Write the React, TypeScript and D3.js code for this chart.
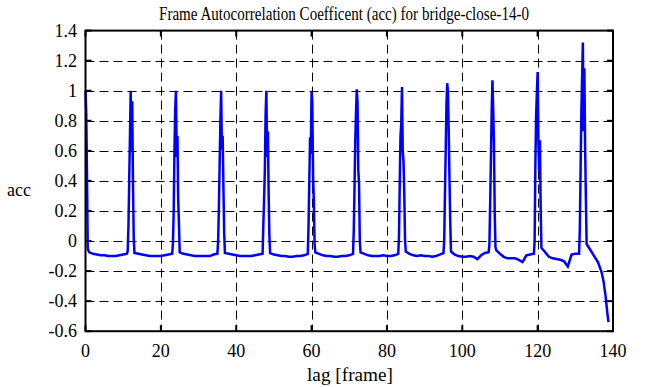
import { useEffect, useRef } from "react";
import * as d3 from "d3";

// lag axis ticks / acc axis ticks
const xTicks = [0, 20, 40, 60, 80, 100, 120, 140];
const yTicks = [-0.6, -0.4, -0.2, 0, 0.2, 0.4, 0.6, 0.8, 1, 1.2, 1.4];
const yTickLabels = ["-0.6", "-0.4", "-0.2", "0", "0.2", "0.4", "0.6", "0.8", "1", "1.2", "1.4"];

// peaks every 12 frames, sampled finer around each peak
const peakLags = [0, 12, 24, 36, 48, 60, 72, 84, 96, 108, 120, 132];
const peakOffsets = [-0.8, -0.6, -0.4, -0.2, 0, 0.2, 0.4, 0.6, 0.8];
const peakValues = [
  [null, null, null, null, 1.0, 0.85, 0.43, -0.05, -0.065],
  [-0.065, 0.1, 0.4, 0.7, 1.0, 0.6, 0.93, 0.39, 0.02],
  [-0.02, 0.19, 0.58, 0.87, 1.0, 0.56, 0.7, 0.28, 0.12],
  [0.0, 0.22, 0.51, 0.8, 1.0, 0.61, 0.7, 0.37, 0.06],
  [0.11, 0.28, 0.47, 0.84, 1.0, 0.56, 0.73, 0.33, 0.04],
  [0.11, 0.4, 0.69, 0.58, 1.0, 0.92, 0.43, 0.27, -0.02],
  [0.07, 0.36, 0.67, 0.86, 1.01, 0.92, 0.47, 0.38, 0.0],
  [0.03, 0.38, 0.7, 0.78, 1.025, 0.6, 0.53, 0.33, 0.01],
  [0.0, 0.31, 0.6, 0.91, 1.05, 0.99, 0.73, 0.42, 0.13],
  [-0.02, 0.25, 0.55, 0.86, 1.07, 0.88, 0.66, 0.2, -0.04],
  [0.0, 0.51, 0.84, 0.99, 1.125, 0.66, 0.47, 0.67, 0.22],
  [0.08, 0.47, 0.86, 1.08, 1.32, 0.73, 1.15, 0.62, 0.29],
];

// baseline between peaks, integer lags (gap k spans peakLags[k]+1 .. peakLags[k]+11)
const gapValues = [
  [-0.075, -0.085, -0.09, -0.095, -0.095, -0.1, -0.1, -0.1, -0.095, -0.09, -0.085],
  [-0.08, -0.085, -0.09, -0.095, -0.1, -0.1, -0.1, -0.1, -0.095, -0.09, -0.085],
  [-0.075, -0.085, -0.09, -0.095, -0.1, -0.1, -0.1, -0.1, -0.1, -0.09, -0.085],
  [-0.08, -0.085, -0.09, -0.095, -0.1, -0.1, -0.1, -0.1, -0.095, -0.09, -0.085],
  [-0.08, -0.09, -0.095, -0.1, -0.1, -0.105, -0.105, -0.1, -0.1, -0.095, -0.085],
  [-0.075, -0.085, -0.095, -0.1, -0.1, -0.105, -0.105, -0.1, -0.1, -0.095, -0.085],
  [-0.075, -0.085, -0.095, -0.1, -0.1, -0.1, -0.095, -0.1, -0.1, -0.095, -0.085],
  [-0.07, -0.085, -0.095, -0.1, -0.095, -0.1, -0.1, -0.105, -0.1, -0.09, -0.08],
  [-0.07, -0.09, -0.1, -0.105, -0.105, -0.1, -0.105, -0.12, -0.095, -0.08, -0.075],
  [-0.06, -0.085, -0.105, -0.115, -0.115, -0.115, -0.125, -0.14, -0.095, -0.09, -0.085],
  [-0.045, -0.075, -0.105, -0.115, -0.12, -0.125, -0.135, -0.17, -0.09, -0.085, -0.085],
];

// tail after the last peak
const tailLags = [133, 134, 135, 136, 137, 137.5, 138, 138.5, 138.8];
const tailAcc = [-0.02, -0.06, -0.1, -0.14, -0.21, -0.27, -0.36, -0.48, -0.54];

const W = 661;
const H = 387;
const margin = { top: 30.6, right: 48, bottom: 55.8, left: 85.5 };
const font = "'Liberation Serif', 'DejaVu Serif', serif";

export default function App() {
  const svgRef = useRef<SVGSVGElement>(null);

  useEffect(() => {
    const svg = d3.select(svgRef.current);
    svg.selectAll("*").remove();

    const x = d3.scaleLinear().domain([0, 140]).range([margin.left, W - margin.right]);
    const y = d3.scaleLinear().domain([-0.6, 1.4]).range([H - margin.bottom, margin.top]);

    // build the series
    const pts: [number, number][] = [];
    peakLags.forEach((p, i) => {
      peakOffsets.forEach((o, j) => {
        const v = peakValues[i][j];
        if (v != null) pts.push([p + o, v]);
      });
      if (i < gapValues.length) {
        gapValues[i].forEach((v, k) => pts.push([p + k + 1, v]));
      }
    });
    tailLags.forEach((l, i) => pts.push([l, tailAcc[i]]));
    pts.sort((a, b) => a[0] - b[0]);

    // grid
    const grid = svg.append("g").attr("stroke", "#000").attr("stroke-width", 1).attr("stroke-dasharray", "9,5");
    xTicks.slice(1, -1).forEach((t) => {
      grid.append("line").attr("x1", Math.round(x(t)) + 0.5).attr("x2", Math.round(x(t)) + 0.5)
        .attr("y1", y(1.4)).attr("y2", y(-0.6));
    });
    yTicks.slice(1, -1).forEach((t) => {
      grid.append("line").attr("y1", Math.round(y(t)) + 0.5).attr("y2", Math.round(y(t)) + 0.5)
        .attr("x1", x(0)).attr("x2", x(140));
    });

    // inward ticks
    const tk = svg.append("g").attr("stroke", "#000").attr("stroke-width", 2);
    xTicks.forEach((t) => {
      tk.append("line").attr("x1", x(t)).attr("x2", x(t)).attr("y1", y(-0.6)).attr("y2", y(-0.6) - 6);
      tk.append("line").attr("x1", x(t)).attr("x2", x(t)).attr("y1", y(1.4)).attr("y2", y(1.4) + 6);
    });
    yTicks.forEach((t) => {
      tk.append("line").attr("y1", y(t)).attr("y2", y(t)).attr("x1", x(0)).attr("x2", x(0) + 6);
      tk.append("line").attr("y1", y(t)).attr("y2", y(t)).attr("x1", x(140)).attr("x2", x(140) - 6);
    });

    // data line
    const line = d3.line<[number, number]>().x((d) => x(d[0])).y((d) => y(d[1]));
    svg.append("path").datum(pts).attr("d", line).attr("fill", "none")
      .attr("stroke", "#0000ff").attr("stroke-width", 2.5).attr("stroke-linejoin", "miter");

    // border
    svg.append("rect").attr("x", x(0)).attr("y", y(1.4)).attr("width", x(140) - x(0))
      .attr("height", y(-0.6) - y(1.4)).attr("fill", "none").attr("stroke", "#000").attr("stroke-width", 2);

    // tick labels
    const txt = svg.append("g").attr("font-family", font).attr("font-size", 18).attr("fill", "#000");
    xTicks.forEach((t) => {
      txt.append("text").attr("x", x(t)).attr("y", 357).attr("text-anchor", "middle").text(String(t));
    });
    yTicks.forEach((t, i) => {
      txt.append("text").attr("x", 77).attr("y", y(t) + 6).attr("text-anchor", "end").text(yTickLabels[i]);
    });

    txt.append("text").attr("x", 344).attr("y", 20).attr("text-anchor", "middle")
      .attr("textLength", 370).attr("lengthAdjust", "spacingAndGlyphs")
      .text("Frame Autocorrelation Coefficent (acc) for bridge-close-14-0");
    txt.append("text").attr("x", 350).attr("y", 381).attr("text-anchor", "middle")
      .attr("textLength", 86).attr("lengthAdjust", "spacingAndGlyphs").text("lag [frame]");
    txt.append("text").attr("x", 19).attr("y", 196).attr("text-anchor", "middle").text("acc");
  }, []);

  return (
    <svg ref={svgRef} width={W} height={H}
      style={{ position: "absolute", left: 0, top: 0, background: "#fff" }} />
  );
}
